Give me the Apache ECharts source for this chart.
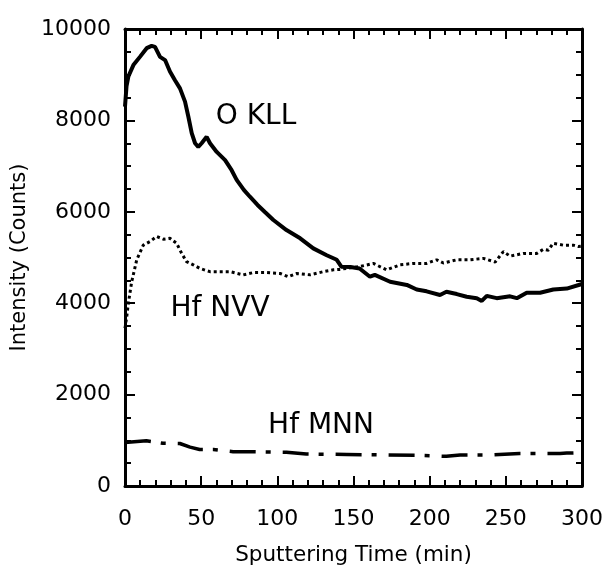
<!DOCTYPE html>
<html>
<head>
<meta charset="utf-8">
<script src="https://cdn.jsdelivr.net/npm/echarts@6/dist/echarts.min.js"></script>
<style>html,body{margin:0;padding:0;background:#fff;}#c{width:606px;height:566px;}</style>
</head>
<body>
<div id="c"></div>
<script>
// O KLL (solid)
var okllTime = [0, 1, 2.2, 5.5, 9.8, 14.2, 17.5, 19.7, 23, 26.3, 29.5, 32.8, 36.1, 39.4, 41.6, 43.8, 46, 48.1, 50.3, 53.6, 55.8, 60.2, 65.7, 70, 73.3, 78, 82, 87, 92, 97.4, 106, 115, 123.6, 132.4, 139, 142, 148, 154, 160.8, 164, 174, 185, 191.5, 198, 206.8, 211, 217.8, 224.3, 230.9, 234.2, 237.5, 244, 252.8, 257.2, 263.7, 272.5, 281.2, 290, 300];
var okllValue = [8300, 8750, 8960, 9210, 9390, 9580, 9630, 9610, 9390, 9320, 9070, 8880, 8700, 8410, 8080, 7720, 7500, 7420, 7500, 7640, 7500, 7310, 7130, 6910, 6700, 6480, 6330, 6150, 5990, 5820, 5600, 5420, 5200, 5050, 4950, 4800, 4790, 4760, 4580, 4620, 4470, 4400, 4300, 4260, 4180, 4250, 4200, 4140, 4110, 4050, 4160, 4110, 4150, 4110, 4230, 4230, 4300, 4320, 4420];
// Hf NVV (dotted)
var nvvTime = [0, 1.1, 2.2, 4.4, 7.7, 12, 16.4, 20.8, 25.2, 29.5, 33.9, 37.2, 40.4, 44.8, 49.2, 55.8, 62.4, 69, 77.6, 84.2, 93, 101.8, 107.2, 112.7, 121.5, 130.2, 136.8, 141, 147, 154, 163, 171.8, 180.6, 189.3, 198, 204.6, 209, 217.8, 226.5, 235.3, 243, 248.4, 252.8, 261.5, 270.3, 274.7, 278, 281, 287.7, 294.3, 297.6, 300];
var nvvValue = [3450, 3700, 4000, 4470, 4950, 5270, 5350, 5460, 5400, 5420, 5310, 5090, 4910, 4840, 4760, 4690, 4690, 4690, 4620, 4670, 4670, 4650, 4580, 4650, 4620, 4690, 4730, 4740, 4770, 4800, 4870, 4730, 4840, 4870, 4870, 4950, 4880, 4950, 4950, 4980, 4900, 5130, 5030, 5090, 5090, 5180, 5160, 5310, 5270, 5270, 5240, 5250];
// Hf MNN (dash-dot)
var mnnTime = [0, 1, 14, 25, 36, 42.7, 49, 58, 71, 80, 106, 119, 145.6, 171.8, 193.6, 211, 220, 241.7, 259, 285.6, 290, 300];
var mnnValue = [950, 970, 990, 935, 930, 850, 800, 800, 750, 750, 740, 700, 690, 680, 670, 650, 680, 680, 710, 710, 720, 730];
// Curve labels [time, intensity, text]
var curveLabels = [[86.0, 8080, 'O KLL'], [62.4, 3890, 'Hf NVV'], [128.7, 1310, 'Hf MNN']];
var xTicks = [0, 50, 100, 150, 200, 250, 300];
var yTicks = [0, 2000, 4000, 6000, 8000, 10000];

function pairs(t, v) { return t.map(function (x, i) { return [x, v[i]]; }); }

var FONT = 'DejaVu Sans';
var TXT = '#000';
var axisLine = { show: true, onZero: false, lineStyle: { color: '#000', width: 3 } };
var axisTick = { show: true, inside: true, length: 10, lineStyle: { color: '#000', width: 2 } };
var minorTick = { show: true, length: 6, lineStyle: { color: '#000', width: 2 } };
function plain(v) { return String(v); }

function xAx(pos, labels) {
  return {
    type: 'value', position: pos, min: xTicks[0], max: xTicks[xTicks.length - 1], interval: 50,
    axisLine: axisLine, axisTick: axisTick, minorTick: Object.assign({ splitNumber: 5 }, minorTick),
    splitLine: { show: false },
    axisLabel: { show: labels, color: TXT, fontFamily: FONT, fontSize: 22, margin: 22, formatter: plain },
    name: labels ? 'Sputtering Time (min)' : '', nameLocation: 'middle', nameGap: 58,
    nameTextStyle: { color: TXT, fontFamily: FONT, fontSize: 21.5 }
  };
}
function yAx(pos, labels) {
  return {
    type: 'value', position: pos, min: yTicks[0], max: yTicks[yTicks.length - 1], interval: 2000,
    axisLine: axisLine, axisTick: axisTick, minorTick: Object.assign({ splitNumber: 4 }, minorTick),
    splitLine: { show: false },
    axisLabel: { show: labels, color: TXT, fontFamily: FONT, fontSize: 22, margin: 14, formatter: plain },
    name: labels ? 'Intensity (Counts)' : '', nameLocation: 'middle', nameGap: 82,
    nameTextStyle: { color: TXT, fontFamily: FONT, fontSize: 21 }
  };
}

var chart = echarts.init(document.getElementById('c'), null, { renderer: 'canvas' });
chart.setOption({
  backgroundColor: '#fff',
  animation: false,
  grid: { left: 125, right: 24, top: 29, bottom: 80, containLabel: false, outerBoundsMode: 'none' },
  xAxis: [xAx('bottom', true), xAx('top', false)],
  yAxis: [yAx('left', true), yAx('right', false)],
  series: [
    { type: 'line', name: 'O KLL', data: pairs(okllTime, okllValue), showSymbol: false, symbol: 'none',
      lineStyle: { color: '#000', width: 4 }, z: 5 },
    { type: 'line', name: 'Hf NVV', data: pairs(nvvTime, nvvValue), showSymbol: false, symbol: 'none',
      lineStyle: { color: '#000', width: 3, type: [3, 3], cap: 'butt' }, z: 4 },
    { type: 'line', name: 'Hf MNN', data: pairs(mnnTime, mnnValue), showSymbol: false, symbol: 'none',
      lineStyle: { color: '#000', width: 3.5, type: [26, 10, 5, 12], cap: 'butt' }, z: 4 },
    { type: 'scatter', data: curveLabels.map(function (d) { return { value: [d[0], d[1]], name: d[2] }; }),
      symbolSize: 0, silent: true, itemStyle: { opacity: 1 },
      label: { show: true, position: 'inside', formatter: function (p) { return p.name; }, opacity: 1,
        color: '#000', textBorderWidth: 0, fontFamily: FONT, fontSize: 28 } }
  ]
});
</script>
</body>
</html>
